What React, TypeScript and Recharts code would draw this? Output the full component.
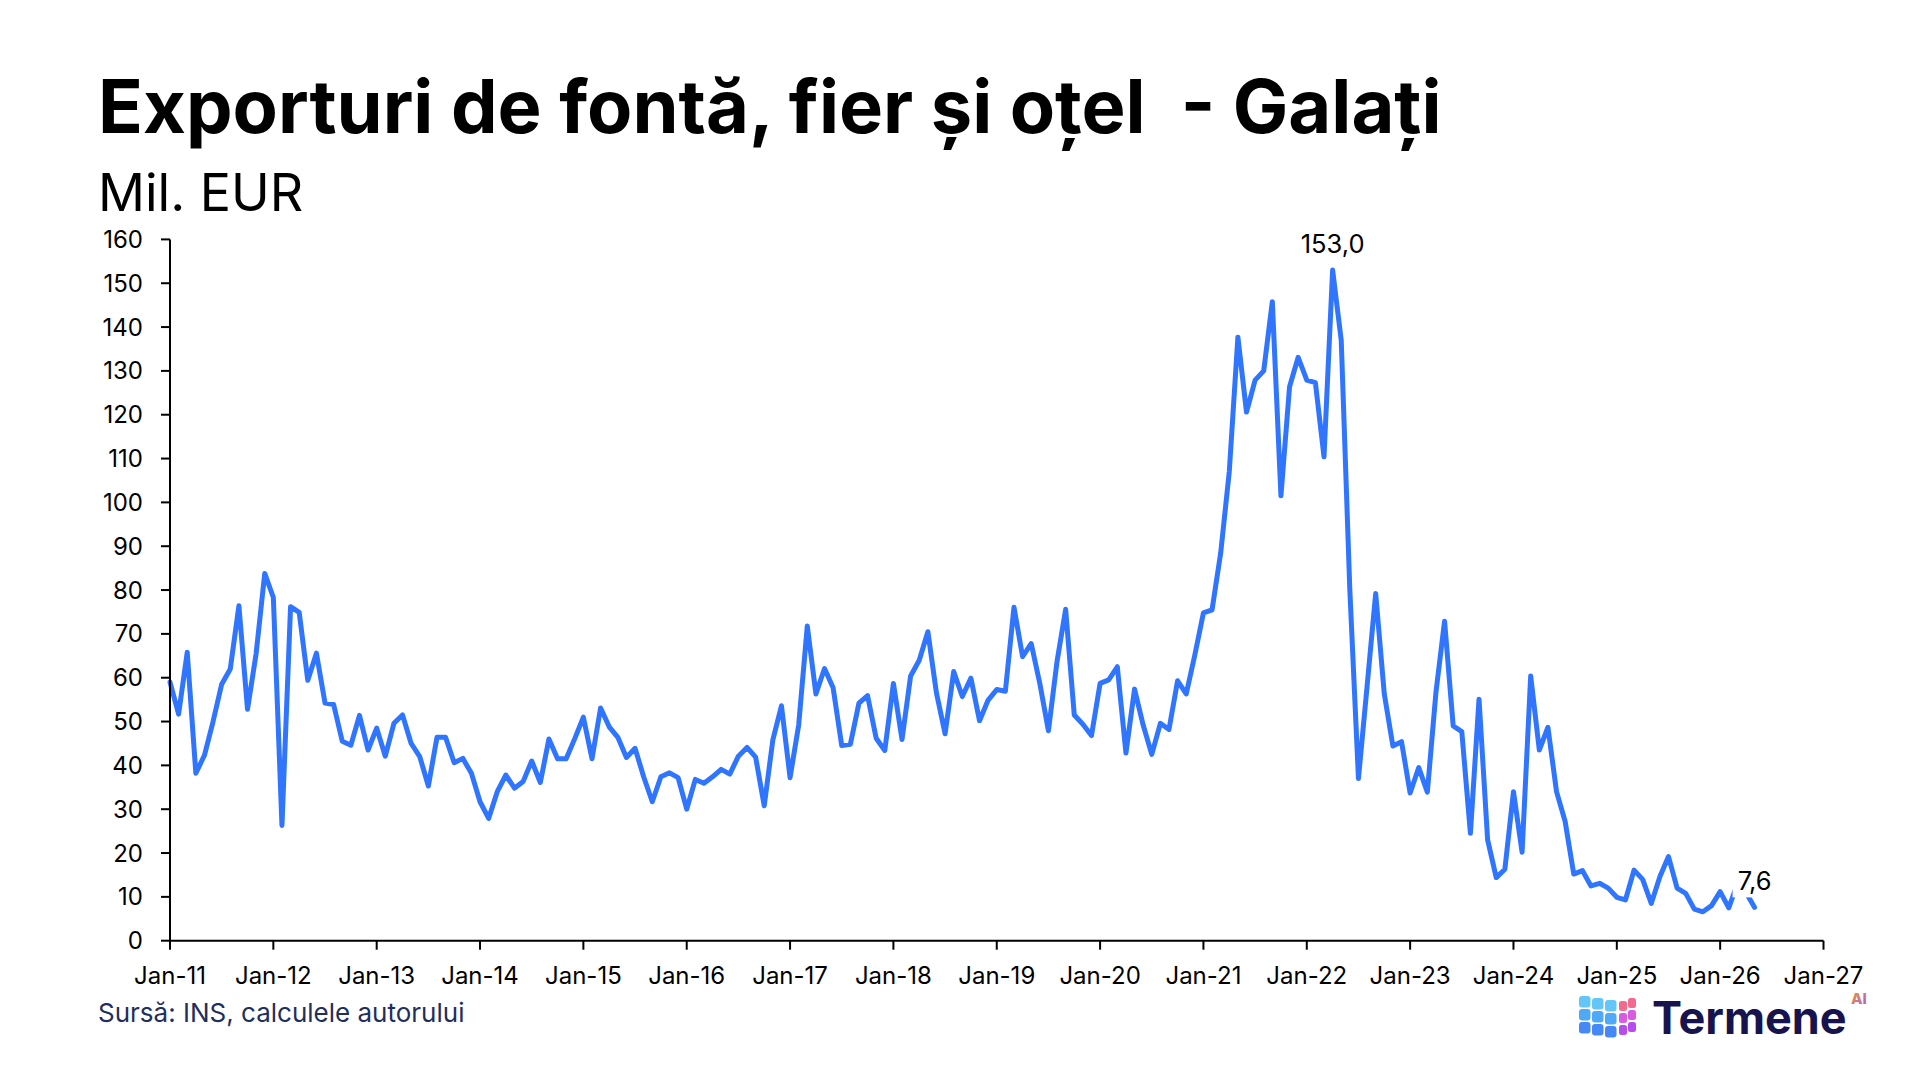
import React from "react";
import { LineChart, Line, XAxis, YAxis } from "recharts";

// Monthly exports, Mil. EUR, Jan-2011 .. May-2026
const values2011 = [59.0, 51.7, 65.8, 38.2, 42.3, 50.0, 58.5, 62.0, 76.4, 52.8, 65.5, 83.8];
const values2012 = [78.3, 26.3, 76.2, 74.9, 59.4, 65.6, 54.2, 53.9, 45.5, 44.6, 51.4, 43.5];
const values2013 = [48.5, 42.1, 49.6, 51.5, 45.0, 42.0, 35.3, 46.4, 46.4, 40.6, 41.6, 38.2];
const values2014 = [31.7, 27.9, 34.0, 37.8, 34.8, 36.3, 41.0, 36.1, 46.0, 41.5, 41.5, 46.1];
const values2015 = [51.0, 41.5, 53.1, 48.8, 46.4, 41.8, 43.9, 37.4, 31.7, 37.4, 38.3, 37.2];
const values2016 = [30.0, 36.8, 35.9, 37.4, 39.1, 38.0, 42.1, 44.1, 41.9, 30.8, 45.8, 53.6];
const values2017 = [37.2, 49.2, 71.8, 56.3, 62.1, 57.7, 44.5, 44.8, 54.2, 55.9, 46.2, 43.4];
const values2018 = [58.7, 45.9, 60.4, 64.0, 70.5, 56.5, 47.2, 61.4, 55.7, 59.9, 50.2, 54.9];
const values2019 = [57.3, 56.9, 76.1, 64.8, 67.8, 58.7, 47.9, 63.7, 75.6, 51.5, 49.4, 46.8];
const values2020 = [58.7, 59.5, 62.5, 42.8, 57.4, 49.2, 42.5, 49.6, 48.2, 59.3, 56.3, 65.2];
const values2021 = [74.8, 75.5, 88.4, 107.0, 137.7, 120.6, 127.9, 130.0, 145.8, 101.5, 126.4, 133.1];
const values2022 = [127.9, 127.3, 110.4, 153.0, 137.0, 80.0, 37.0, 58.0, 79.2, 56.3, 44.4, 45.4];
const values2023 = [33.7, 39.5, 33.9, 56.7, 72.9, 49.0, 47.7, 24.5, 55.1, 23.0, 14.4, 16.3];
const values2024 = [34.0, 20.2, 60.4, 43.5, 48.7, 34.0, 27.2, 15.2, 16.0, 12.5, 13.1, 12.0];
const values2025 = [9.9, 9.3, 16.1, 14.0, 8.5, 14.6, 19.2, 12.0, 10.8, 7.2, 6.6, 8.0];
const values2026 = [11.2, 7.5, 13.0, 11.0, 7.6];

const values = [
  ...values2011, ...values2012, ...values2013, ...values2014, ...values2015,
  ...values2016, ...values2017, ...values2018, ...values2019, ...values2020,
  ...values2021, ...values2022, ...values2023, ...values2024, ...values2025,
  ...values2026,
];

const xTickLabels = [
  "Jan-11", "Jan-12", "Jan-13", "Jan-14", "Jan-15", "Jan-16", "Jan-17", "Jan-18", "Jan-19",
  "Jan-20", "Jan-21", "Jan-22", "Jan-23", "Jan-24", "Jan-25", "Jan-26", "Jan-27",
];
const yTicks = [0, 10, 20, 30, 40, 50, 60, 70, 80, 90, 100, 110, 120, 130, 140, 150, 160];

const data = values.map((v, i) => ({ m: i, v }));
const xTicks = xTickLabels.map((_, i) => i * 12);
const peakIndex = values.indexOf(Math.max(...values));
const lastIndex = values.length - 1;

const FONT = "Inter, 'Liberation Sans', Arial, sans-serif";

const fmt = (v: number) => v.toFixed(1).replace(".", ",");

const renderLabel = (props: any) => {
  const { x, y, index, value } = props;
  if (index !== peakIndex && index !== lastIndex) return null;
  const withBox = index === lastIndex;
  return (
    <g key={`lbl-${index}`}>
      {withBox && (
        <rect x={x - 22} y={y - 41} width={44} height={31} fill="#ffffff" />
      )}
      <text
        x={x}
        y={y - 17}
        textAnchor="middle"
        fontFamily={FONT}
        fontSize={25.5}
        fill="#000000"
      >
        {fmt(Number(value))}
      </text>
    </g>
  );
};

const Logo = () => {
  const leftCols = [0, 1, 2];
  const rows = [0, 1, 2];
  const blues = ["#5cc3f7", "#47a4f6", "#3b82f6"];
  const pinks = ["#f26a8d", "#d95be0", "#b84ded"];
  return (
    <g>
      <defs>
        <linearGradient id="aiGrad" x1="0" y1="0" x2="1" y2="1">
          <stop offset="0%" stopColor="#f59e0b" />
          <stop offset="100%" stopColor="#a855f7" />
        </linearGradient>
      </defs>
      {leftCols.map((c) =>
        rows.map((r) => (
          <rect
            key={`l-${c}-${r}`}
            x={1579 + c * 13}
            y={996 + r * 13 + c * 2}
            width={11.5}
            height={11.5}
            rx={3}
            fill={blues[r]}
            opacity={0.95}
          />
        ))
      )}
      {[0, 1].map((c) =>
        rows.map((r) => (
          <rect
            key={`r-${c}-${r}`}
            x={1619 + c * 9}
            y={1001 + r * 12 - c * 3}
            width={8}
            height={10}
            rx={2.5}
            fill={pinks[r]}
          />
        ))
      )}
      <text x={1652} y={1034} fontFamily={FONT} fontWeight={700} fontSize={45} fill="#16134d">
        Termene
      </text>
      <text x={1851} y={1004} fontFamily={FONT} fontWeight={800} fontSize={15} fill="url(#aiGrad)">
        AI
      </text>
    </g>
  );
};

export default function App() {
  return (
    <div style={{ position: "absolute", left: 0, top: 0, width: 1920, height: 1080, background: "#ffffff" }}>
      <div style={{ position: "absolute", left: 0, top: 0 }}>
        <LineChart
          width={1920}
          height={1080}
          data={data}
          margin={{ top: 239.4, right: 96.5, bottom: 99.3, left: 90 }}
        >
          <XAxis
            dataKey="m"
            type="number"
            domain={[0, 192]}
            ticks={xTicks}
            interval={0}
            tickFormatter={(t: number) => xTickLabels[Math.round(t / 12)]}
            height={40}
            axisLine={{ stroke: "#000000", strokeWidth: 2 }}
            tickLine={{ stroke: "#000000", strokeWidth: 2 }}
            tickSize={9}
            tickMargin={17}
            tick={{ fill: "#000000", fontSize: 24, fontFamily: FONT }}
          />
          <YAxis
            domain={[0, 160]}
            ticks={yTicks}
            interval={0}
            width={80}
            axisLine={{ stroke: "#000000", strokeWidth: 2 }}
            tickLine={{ stroke: "#000000", strokeWidth: 2 }}
            tickSize={9}
            tickMargin={18}
            tick={{ fill: "#000000", fontSize: 24, fontFamily: FONT }}
          />
          <Line
            type="linear"
            dataKey="v"
            stroke="#2f75ff"
            strokeWidth={5}
            strokeLinejoin="round"
            strokeLinecap="round"
            dot={false}
            activeDot={false}
            isAnimationActive={false}
            label={renderLabel}
          />
        </LineChart>
      </div>
      <svg
        width={1920}
        height={1080}
        style={{ position: "absolute", left: 0, top: 0, pointerEvents: "none" }}
      >
        <text
          x={98}
          y={133}
          fontFamily={FONT}
          fontWeight={700}
          fontSize={74}
          fill="#000000"
          style={{ whiteSpace: "pre" }}
        >
          Exporturi de fontă, fier și oțel  - Galați
        </text>
        <text x={98} y={211} fontFamily={FONT} fontWeight={400} fontSize={52} fill="#000000">
          Mil. EUR
        </text>
        <text x={98} y={1022} fontFamily={FONT} fontWeight={400} fontSize={26} fill="#1f2f5c">
          Sursă: INS, calculele autorului
        </text>
        <Logo />
      </svg>
    </div>
  );
}
